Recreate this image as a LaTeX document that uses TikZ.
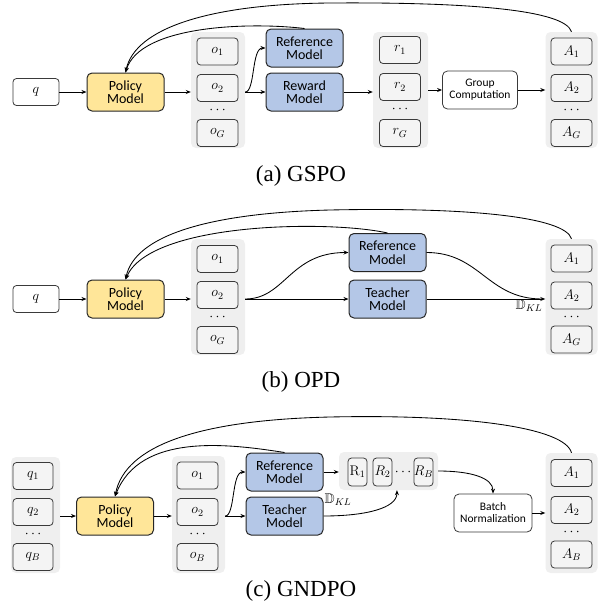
\RequirePackage{fix-cm}
\documentclass[tikz,border=0pt]{standalone}
\usepackage[no-math]{fontspec}
\usepackage{amssymb}
\setmainfont{Carlito}
\newfontfamily\capfont{Liberation Serif}
\usetikzlibrary{arrows.meta,calc}
\definecolor{polfill}{HTML}{FFE699}
\definecolor{bluefill}{HTML}{B4C7E7}
\definecolor{grpfill}{HTML}{EFEFEF}
\definecolor{boxfill}{HTML}{F4F4F4}
\definecolor{edge}{HTML}{3A3A3A}
\begin{document}
\begin{tikzpicture}[x=1pt,y=-1pt,
  grp/.style={fill=grpfill,rounded corners=5pt,inner sep=0pt},
  sbox/.style={draw=edge,fill=boxfill,rounded corners=3.5pt,line width=0.8pt,minimum width=41pt,minimum height=27pt,inner sep=0pt,font=\fontsize{14}{15}\selectfont},
  rbox/.style={sbox,minimum width=19pt,minimum height=28pt},
  qbox/.style={sbox,fill=white,minimum width=46pt},
  model/.style={draw=black!85,rounded corners=5pt,line width=1pt,minimum width=77pt,minimum height=38pt,inner sep=0pt,align=center,font=\fontsize{14}{13.5}\selectfont},
  pol/.style={model,fill=polfill},
  blu/.style={model,fill=bluefill},
  wbox/.style={draw=edge,fill=white,rounded corners=5pt,line width=0.8pt,minimum width=75pt,minimum height=38pt,inner sep=0pt,align=center,font=\fontsize{11.5}{12}\selectfont},
  conn/.style={line width=0.85pt,-{Stealth[length=5pt,width=4pt]}},
  plainline/.style={line width=0.85pt},
  dts/.style={inner sep=0pt,font=\fontsize{14}{15}\selectfont},
  captext/.style={inner sep=0pt,font=\capfont\fontsize{23}{26}\selectfont},
  lbl/.style={inner sep=0pt,font=\fontsize{14}{15}\selectfont}]
\useasboundingbox (0,0) rectangle (600,616);

% ================= (a) GSPO =================
\node[qbox] (qa) at (36,92) {$q$};
\node[pol] (Pola) at (125.5,92) {Policy\\Model};
\node[grp,minimum width=54pt,minimum height=116pt] (oga) at (218,90) {};
\node[sbox] (o1a) at (217.5,51.5) {$o_1$};
\node[sbox] (o2a) at (217.5,88) {$o_2$};
\node[dts] (oda) at (217.5,110) {$\cdots$};
\node[sbox] (oGa) at (217.5,133) {$o_G$};
\node[blu] (Refa) at (304.5,48) {Reference\\Model};
\node[blu] (Rwa) at (304.5,92) {Reward\\Model};
\node[grp,minimum width=55pt,minimum height=116pt] (rga) at (400.5,90) {};
\node[sbox] (r1a) at (400,50) {$r_1$};
\node[sbox] (r2a) at (400,87) {$r_2$};
\node[dts] (rda) at (400,109) {$\cdots$};
\node[sbox] (rGa) at (400,133) {$r_G$};
\node[wbox] (GCa) at (480,90) {Group\\Computation};
\node[grp,minimum width=52pt,minimum height=116pt] (Aga) at (571.5,90) {};
\node[sbox] (A1a) at (571.5,51.5) {$A_1$};
\node[sbox] (A2a) at (571.5,88) {$A_2$};
\node[dts] (Ada) at (571.5,110) {$\cdots$};
\node[sbox] (AGa) at (571.5,133) {$A_G$};

\draw[conn] (qa) -- (Pola);
\draw[conn] (Pola.east) -- (Pola.east -| oga.west);
\draw[conn] (oga.east |- Rwa.west) -- (Rwa.west);
\draw[conn] (oga.east |- Rwa.west) .. controls +(10,0) and +(-14,0) .. (Refa.west);
\draw[conn] (Rwa.east) -- (Rwa.east -| rga.west);
\draw[conn] (rga.east |- GCa.west) -- (GCa.west);
\draw[conn] (GCa.east) -- (GCa.east -| Aga.west);
\draw[conn] (Aga.north) .. controls (565,10) and (470,2) .. (330,3) .. controls (210,4) and (135,28) .. (Pola.north);
\draw[conn] (Refa.north) .. controls (250,22) and (140,25) .. (Pola.north);
\node[captext] (capa) at (301,176) {(a) GSPO};

% ================= (b) OPD =================
\node[qbox] (qb) at (36,299) {$q$};
\node[pol] (Polb) at (125.5,299) {Policy\\Model};
\node[grp,minimum width=54pt,minimum height=116pt] (ogb) at (218,297) {};
\node[sbox] (o1b) at (217.5,259) {$o_1$};
\node[sbox] (o2b) at (217.5,295) {$o_2$};
\node[dts] (odb) at (217.5,317) {$\cdots$};
\node[sbox] (oGb) at (217.5,340) {$o_G$};
\node[blu] (Refb) at (387.5,252.5) {Reference\\Model};
\node[blu] (Teb) at (387.5,299) {Teacher\\Model};
\node[grp,minimum width=52pt,minimum height=116pt] (Agb) at (571.5,297) {};
\node[sbox] (A1b) at (571.5,258.5) {$A_1$};
\node[sbox] (A2b) at (571.5,295.5) {$A_2$};
\node[dts] (Adb) at (571.5,317) {$\cdots$};
\node[sbox] (AGb) at (571.5,339.5) {$A_G$};
\node[lbl] (DKLb) at (529,306) {$\mathbb{D}_{KL}$};

\draw[conn] (qb) -- (Polb);
\draw[conn] (Polb.east) -- (Polb.east -| ogb.west);
\draw[conn] (ogb.east |- Teb.west) -- (Teb.west);
\draw[conn] (ogb.east |- Teb.west) .. controls +(40,0) and +(-59,0) .. (Refb.west);
\draw[conn] (Teb.east) -- (Teb.east -| Agb.west);
\draw[plainline] (Refb.east) .. controls +(54,0) and +(-55,0) .. ([xshift=-3pt]Teb.east -| Agb.west);
\draw[conn] (Agb.north) .. controls (565,217) and (470,207) .. (330,210) .. controls (210,213) and (135,235) .. (Polb.north);
\draw[conn] (Refb.north) .. controls (330,220) and (150,222) .. (Polb.north);
\node[captext] (capb) at (301,382) {(b) OPD};

% ================= (c) GNDPO =================
\node[grp,minimum width=49pt,minimum height=116pt] (qgc) at (35.5,515) {};
\node[sbox,minimum width=40pt] (q1c) at (33,476) {$q_1$};
\node[sbox,minimum width=40pt] (q2c) at (33,512) {$q_2$};
\node[dts] (qdc) at (33,534) {$\cdots$};
\node[sbox,minimum width=40pt] (qBc) at (33,557) {$q_B$};
\node[pol] (Polc) at (115,516) {Policy\\Model};
\node[grp,minimum width=53pt,minimum height=117pt] (ogc) at (198.5,514.5) {};
\node[sbox] (o1c) at (197.5,475.5) {$o_1$};
\node[sbox] (o2c) at (197.5,512) {$o_2$};
\node[dts] (odc) at (197.5,534) {$\cdots$};
\node[sbox] (oBc) at (197.5,557) {$o_B$};
\node[blu] (Refc) at (284.5,472) {Reference\\Model};
\node[blu] (Tec) at (284.5,516) {Teacher\\Model};
\node[grp,minimum width=99pt,minimum height=38pt] (Rgc) at (388.5,471) {};
\node[rbox] (R1c) at (357.5,472) {$\mathrm{R}_1$};
\node[rbox] (R2c) at (382.5,472) {$R_2$};
\node[dts] (Rdc) at (403,472) {$\cdots$};
\node[rbox] (RBc) at (423.5,472) {$R_B$};
\node[lbl] (DKLc) at (338,500) {$\mathbb{D}_{KL}$};
\node[wbox,minimum width=78pt] (BNc) at (493,513) {Batch\\Normalization};
\node[grp,minimum width=52pt,minimum height=120pt] (Agc) at (571.5,513) {};
\node[sbox] (A1c) at (571.5,473) {$A_1$};
\node[sbox] (A2c) at (571.5,510) {$A_2$};
\node[dts] (Adc) at (571.5,532) {$\cdots$};
\node[sbox] (ABc) at (571.5,554.5) {$A_B$};
\coordinate (Rin) at ($(Rgc.south west)!0.585!(Rgc.south east)$);

\draw[conn] (Polc.west -| qgc.east) -- (Polc.west);
\draw[conn] (Polc.east) -- (Polc.east -| ogc.west);
\draw[conn] (ogc.east |- Tec.west) -- (Tec.west);
\draw[conn] (ogc.east |- Tec.west) .. controls +(10,0) and +(-14,0) .. (Refc.west);
\draw[conn] (Refc.east) -- (Refc.east -| Rgc.west);
\draw[conn] (Tec.east) .. controls +(42,0) and +(0,18) .. (Rin);
\draw[conn] (Rgc.east) .. controls +(32,0) and +(0,-16) .. (BNc.north);
\draw[conn] (BNc.east) -- (BNc.east -| Agc.west);
\draw[conn] (Agc.north) .. controls (565,428) and (470,414) .. (330,417) .. controls (200,420) and (125,445) .. (Polc.north);
\draw[conn] (Refc.north) .. controls (230,444) and (140,432) .. (Polc.north);
\node[captext] (capc) at (301,591) {(c) GNDPO};
\end{tikzpicture}
\end{document}
